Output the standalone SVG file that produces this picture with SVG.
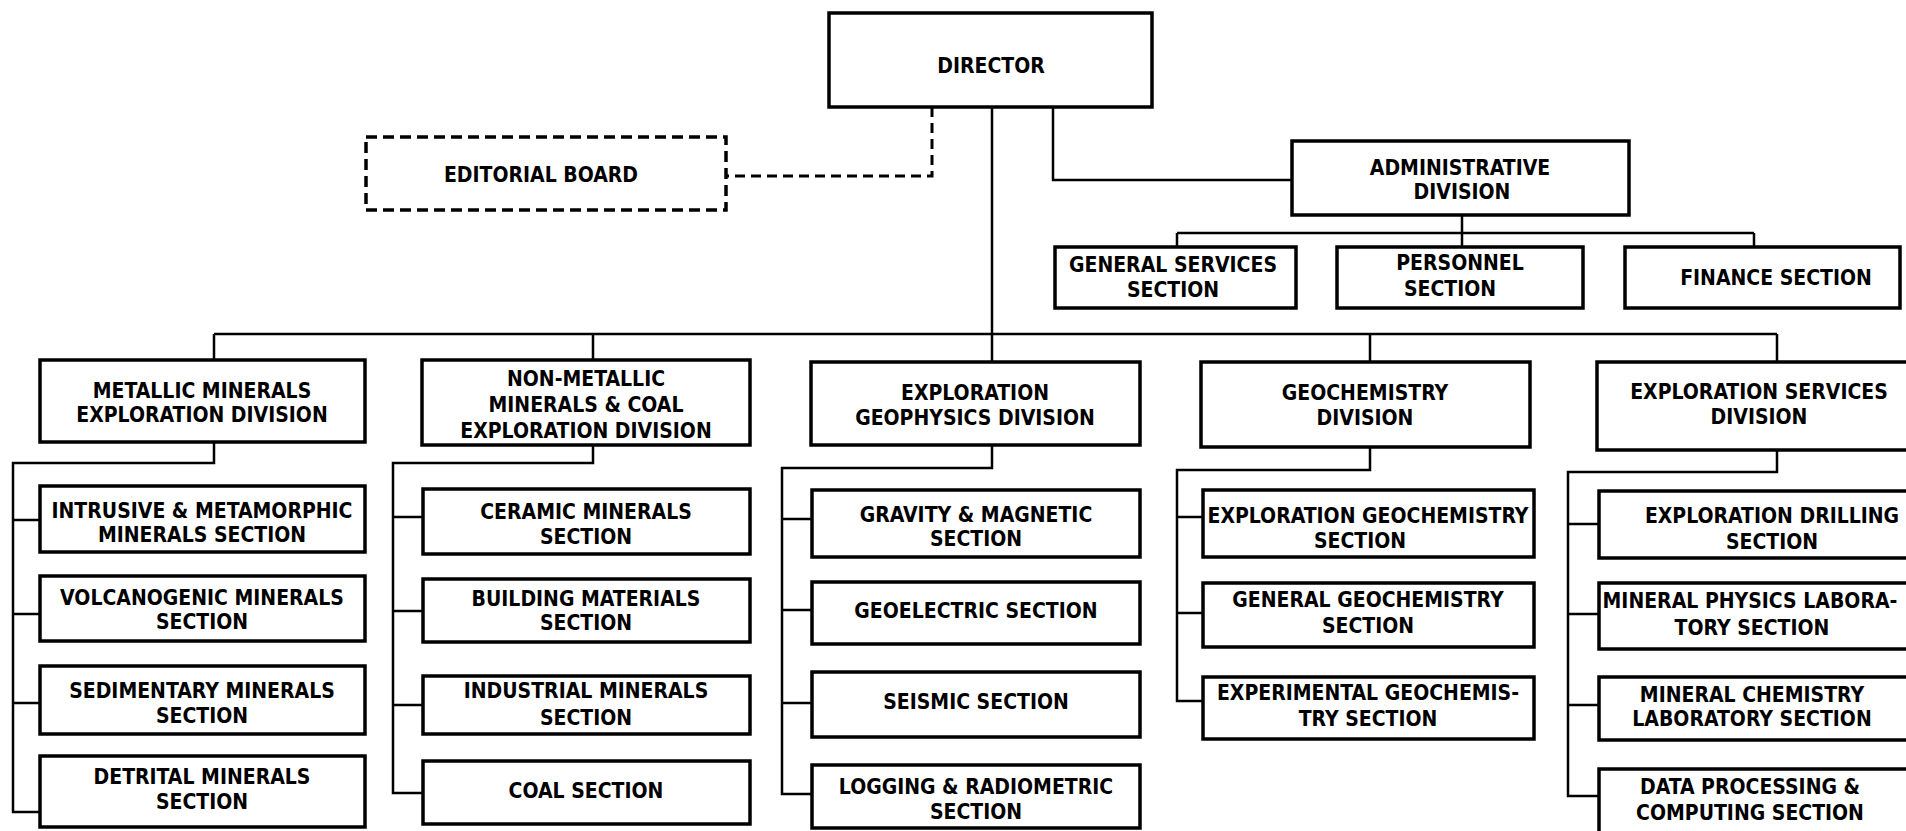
<svg xmlns="http://www.w3.org/2000/svg" width="1906" height="831" viewBox="0 0 1906 831">
<style>
.box{fill:#fff;stroke:#000;stroke-width:3.5}
.dbox{fill:#fff;stroke:#000;stroke-width:3.5;stroke-dasharray:11 6}
.conn{fill:none;stroke:#000;stroke-width:2.5}
.dconn{fill:none;stroke:#000;stroke-width:3;stroke-dasharray:10 6}
text{font-family:"Liberation Sans Narrow","DejaVu Sans Condensed","Liberation Sans",sans-serif;font-stretch:condensed;font-weight:bold;font-size:21px;text-anchor:middle;fill:#000}
</style>
<rect width="1906" height="831" fill="#fff"/>
<g id="connectors">
<path class="dconn" d="M932,107 V176 H726"/>
<path class="conn" d="M1053,107 V180 H1292"/>
<path class="conn" d="M1462,215 V233 M1177,233 H1754 M1177,233 V247 M1462,233 V247 M1754,233 V247"/>
<path class="conn" d="M992,107 V362 M214,334 H1777 M214,334 V360 M593,334 V360 M1370,334 V362 M1777,334 V362"/>
<path class="conn" d="M214,442 V463 H13 V812 H40 M13,520 H40 M13,614 H40 M13,703 H40"/>
<path class="conn" d="M593,445 V463 H393 V793 H423 M393,517 H423 M393,611 H423 M393,705 H423"/>
<path class="conn" d="M992,445 V468 H782 V794 H812 M782,519 H812 M782,610 H812 M782,703 H812"/>
<path class="conn" d="M1370,447 V470 H1177 V701 H1203 M1177,517 H1203 M1177,613 H1203"/>
<path class="conn" d="M1777,450 V472 H1568 V796 H1599 M1568,524 H1599 M1568,614 H1599 M1568,705 H1599"/>
</g>
<g id="director"><rect class="box" x="829" y="13" width="323" height="94"/><text x="991" y="73">DIRECTOR</text></g>
<g id="editorial-board"><rect class="dbox" x="366" y="137" width="360" height="73"/><text x="541" y="182">EDITORIAL BOARD</text></g>
<g id="administrative-division"><rect class="box" x="1292" y="141" width="337" height="74"/><text x="1460" y="175">ADMINISTRATIVE</text><text x="1462" y="199">DIVISION</text></g>
<g id="general-services"><rect class="box" x="1055" y="247" width="241" height="61"/><text x="1173" y="272">GENERAL SERVICES</text><text x="1173" y="297">SECTION</text></g>
<g id="personnel"><rect class="box" x="1337" y="247" width="246" height="61"/><text x="1460" y="270">PERSONNEL</text><text x="1450" y="296">SECTION</text></g>
<g id="finance"><rect class="box" x="1625" y="247" width="275" height="61"/><text x="1776" y="285">FINANCE SECTION</text></g>

<g id="metallic-division"><rect class="box" x="40" y="360" width="325" height="82"/><text x="202" y="398">METALLIC MINERALS</text><text x="202" y="422">EXPLORATION DIVISION</text></g>
<g id="nonmetallic-division"><rect class="box" x="422" y="360" width="328" height="85"/><text x="586" y="386">NON-METALLIC</text><text x="586" y="412">MINERALS &amp; COAL</text><text x="586" y="438">EXPLORATION DIVISION</text></g>
<g id="geophysics-division"><rect class="box" x="811" y="362" width="329" height="83"/><text x="975" y="400">EXPLORATION</text><text x="975" y="425">GEOPHYSICS DIVISION</text></g>
<g id="geochemistry-division"><rect class="box" x="1201" y="362" width="329" height="85"/><text x="1365" y="400">GEOCHEMISTRY</text><text x="1365" y="425">DIVISION</text></g>
<g id="services-division"><rect class="box" x="1597" y="362" width="330" height="88"/><text x="1759" y="399">EXPLORATION SERVICES</text><text x="1759" y="424">DIVISION</text></g>

<g id="intrusive"><rect class="box" x="40" y="486" width="325" height="66"/><text x="202" y="518">INTRUSIVE &amp; METAMORPHIC</text><text x="202" y="542">MINERALS SECTION</text></g>
<g id="volcanogenic"><rect class="box" x="40" y="576" width="325" height="65"/><text x="202" y="605">VOLCANOGENIC MINERALS</text><text x="202" y="629">SECTION</text></g>
<g id="sedimentary"><rect class="box" x="40" y="666" width="325" height="68"/><text x="202" y="698">SEDIMENTARY MINERALS</text><text x="202" y="723">SECTION</text></g>
<g id="detrital"><rect class="box" x="40" y="756" width="325" height="71"/><text x="202" y="784">DETRITAL MINERALS</text><text x="202" y="809">SECTION</text></g>

<g id="ceramic"><rect class="box" x="423" y="489" width="327" height="65"/><text x="586" y="519">CERAMIC MINERALS</text><text x="586" y="544">SECTION</text></g>
<g id="building"><rect class="box" x="423" y="579" width="327" height="63"/><text x="586" y="606">BUILDING MATERIALS</text><text x="586" y="630">SECTION</text></g>
<g id="industrial"><rect class="box" x="423" y="676" width="327" height="58"/><text x="586" y="698">INDUSTRIAL MINERALS</text><text x="586" y="725">SECTION</text></g>
<g id="coal"><rect class="box" x="423" y="761" width="327" height="63"/><text x="586" y="798">COAL SECTION</text></g>

<g id="gravity"><rect class="box" x="812" y="490" width="328" height="67"/><text x="976" y="522">GRAVITY &amp; MAGNETIC</text><text x="976" y="546">SECTION</text></g>
<g id="geoelectric"><rect class="box" x="812" y="582" width="328" height="62"/><text x="976" y="618">GEOELECTRIC SECTION</text></g>
<g id="seismic"><rect class="box" x="812" y="672" width="328" height="65"/><text x="976" y="709">SEISMIC SECTION</text></g>
<g id="logging"><rect class="box" x="812" y="765" width="328" height="63"/><text x="976" y="794">LOGGING &amp; RADIOMETRIC</text><text x="976" y="819">SECTION</text></g>

<g id="exploration-geochemistry"><rect class="box" x="1203" y="490" width="331" height="67"/><text x="1368" y="523">EXPLORATION GEOCHEMISTRY</text><text x="1360" y="548">SECTION</text></g>
<g id="general-geochemistry"><rect class="box" x="1203" y="583" width="331" height="64"/><text x="1368" y="607">GENERAL GEOCHEMISTRY</text><text x="1368" y="633">SECTION</text></g>
<g id="experimental-geochemistry"><rect class="box" x="1203" y="677" width="331" height="62"/><text x="1368" y="700">EXPERIMENTAL GEOCHEMIS-</text><text x="1368" y="726">TRY SECTION</text></g>

<g id="exploration-drilling"><rect class="box" x="1599" y="491" width="330" height="67"/><text x="1772" y="523">EXPLORATION DRILLING</text><text x="1772" y="549">SECTION</text></g>
<g id="mineral-physics"><rect class="box" x="1599" y="583" width="330" height="66"/><text x="1750" y="608">MINERAL PHYSICS LABORA-</text><text x="1752" y="635">TORY SECTION</text></g>
<g id="mineral-chemistry"><rect class="box" x="1599" y="677" width="330" height="63"/><text x="1752" y="702">MINERAL CHEMISTRY</text><text x="1752" y="726">LABORATORY SECTION</text></g>
<g id="data-processing"><rect class="box" x="1599" y="769" width="330" height="80"/><text x="1750" y="794">DATA PROCESSING &amp;</text><text x="1750" y="820">COMPUTING SECTION</text></g>
</svg>
